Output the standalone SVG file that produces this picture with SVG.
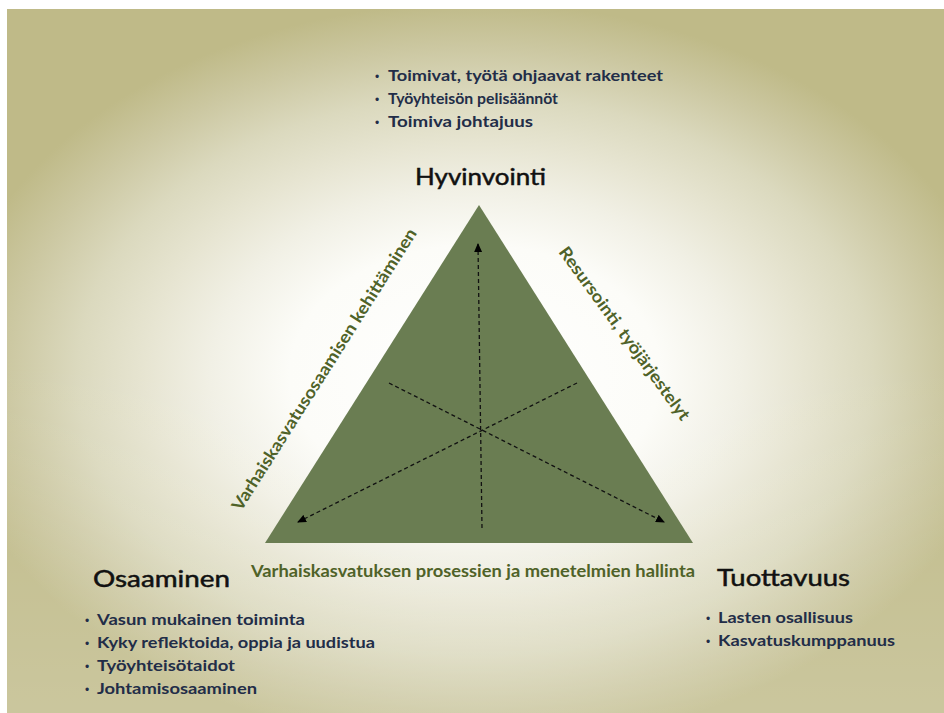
<svg xmlns="http://www.w3.org/2000/svg" width="944" height="713" viewBox="0 0 944 713">
  <defs>
    <radialGradient id="bg" gradientUnits="userSpaceOnUse" cx="0" cy="0" r="1" gradientTransform="translate(475,375) scale(530,372)">
      <stop offset="0" stop-color="#ffffff"/>
      <stop offset="0.35" stop-color="#fcfcf8"/>
      <stop offset="0.5" stop-color="#f1f0e5"/>
      <stop offset="0.62" stop-color="#e7e5d2"/>
      <stop offset="0.75" stop-color="#dbd9be"/>
      <stop offset="0.88" stop-color="#ccc8a2"/>
      <stop offset="1" stop-color="#bfba88"/>
    </radialGradient>
    <linearGradient id="lift" gradientUnits="userSpaceOnUse" x1="0" y1="360" x2="0" y2="713">
      <stop offset="0" stop-color="#ffffff" stop-opacity="0"/>
      <stop offset="1" stop-color="#ffffff" stop-opacity="0.18"/>
    </linearGradient>
    <marker id="ah" markerUnits="userSpaceOnUse" markerWidth="9" markerHeight="8" refX="8" refY="4" orient="auto">
      <path d="M0,0 L9,4 L0,8 z" fill="#000"/>
    </marker>
    <style>
      .title { font-family: Lato, "Open Sans", "Liberation Sans", sans-serif; font-size: 23px; fill: #111111; stroke: #111111; stroke-width: 0.5px; }
      .bul { font-family: Lato, "Open Sans", "Liberation Sans", sans-serif; font-size: 15.5px; font-weight: bold; fill: #222d48; }
      .dot { font-family: "Liberation Sans", sans-serif; font-size: 12px; fill: #222d48; }
      .edge { font-family: Lato, "Open Sans", "Liberation Sans", sans-serif; font-size: 17px; font-weight: bold; fill: #4f6228; }
      .conn { fill: none; stroke: #111; stroke-width: 1.3; stroke-dasharray: 4 3; }
    </style>
  </defs>

  <rect x="0" y="0" width="944" height="713" fill="#ffffff"/>
  <g id="background">
    <rect x="7" y="9" width="937" height="704" fill="url(#bg)"/>
    <rect x="7" y="360" width="937" height="353" fill="url(#lift)"/>
  </g>

  <g id="triangle">
    <polygon points="479,205 265,543 693,543" fill="#6a7d52"/>
  </g>

  <g id="connectors">
    <line class="conn" x1="482" y1="528" x2="478" y2="244" marker-end="url(#ah)"/>
    <line class="conn" x1="389" y1="383" x2="664" y2="522" marker-end="url(#ah)"/>
    <line class="conn" x1="577" y1="383" x2="298" y2="522" marker-end="url(#ah)"/>
  </g>

  <g id="edge-labels">
    <text class="edge" transform="translate(241,512) rotate(-57.7)" textLength="330" lengthAdjust="spacingAndGlyphs">Varhaiskasvatusosaamisen kehittäminen</text>
    <text class="edge" transform="translate(558,252) rotate(54)" textLength="210" lengthAdjust="spacingAndGlyphs">Resursointi, työjärjestelyt</text>
    <text class="edge" x="251" y="577" textLength="444" lengthAdjust="spacingAndGlyphs">Varhaiskasvatuksen prosessien ja menetelmien hallinta</text>
  </g>

  <g id="hyvinvointi">
    <text class="dot" x="375" y="81">•</text>
    <text class="bul" x="388" y="81" textLength="275" lengthAdjust="spacingAndGlyphs">Toimivat, työtä ohjaavat rakenteet</text>
    <text class="dot" x="375" y="104">•</text>
    <text class="bul" x="388" y="104" textLength="170" lengthAdjust="spacingAndGlyphs">Työyhteisön pelisäännöt</text>
    <text class="dot" x="375" y="127">•</text>
    <text class="bul" x="388" y="127" textLength="145" lengthAdjust="spacingAndGlyphs">Toimiva johtajuus</text>
    <text class="title" x="415" y="185" textLength="131" lengthAdjust="spacingAndGlyphs">Hyvinvointi</text>
  </g>

  <g id="osaaminen">
    <text class="title" x="93" y="587" textLength="137" lengthAdjust="spacingAndGlyphs">Osaaminen</text>
    <text class="dot" x="85" y="625">•</text>
    <text class="bul" x="97" y="625" textLength="208" lengthAdjust="spacingAndGlyphs">Vasun mukainen toiminta</text>
    <text class="dot" x="85" y="648">•</text>
    <text class="bul" x="97" y="648" textLength="278" lengthAdjust="spacingAndGlyphs">Kyky reflektoida, oppia ja uudistua</text>
    <text class="dot" x="85" y="671">•</text>
    <text class="bul" x="97" y="671" textLength="138" lengthAdjust="spacingAndGlyphs">Työyhteisötaidot</text>
    <text class="dot" x="85" y="694">•</text>
    <text class="bul" x="97" y="694" textLength="160" lengthAdjust="spacingAndGlyphs">Johtamisosaaminen</text>
  </g>

  <g id="tuottavuus">
    <text class="title" x="717" y="586" textLength="133" lengthAdjust="spacingAndGlyphs">Tuottavuus</text>
    <text class="dot" x="706" y="623">•</text>
    <text class="bul" x="718" y="623" textLength="135" lengthAdjust="spacingAndGlyphs">Lasten osallisuus</text>
    <text class="dot" x="706" y="646">•</text>
    <text class="bul" x="718" y="646" textLength="177" lengthAdjust="spacingAndGlyphs">Kasvatuskumppanuus</text>
  </g>
</svg>
